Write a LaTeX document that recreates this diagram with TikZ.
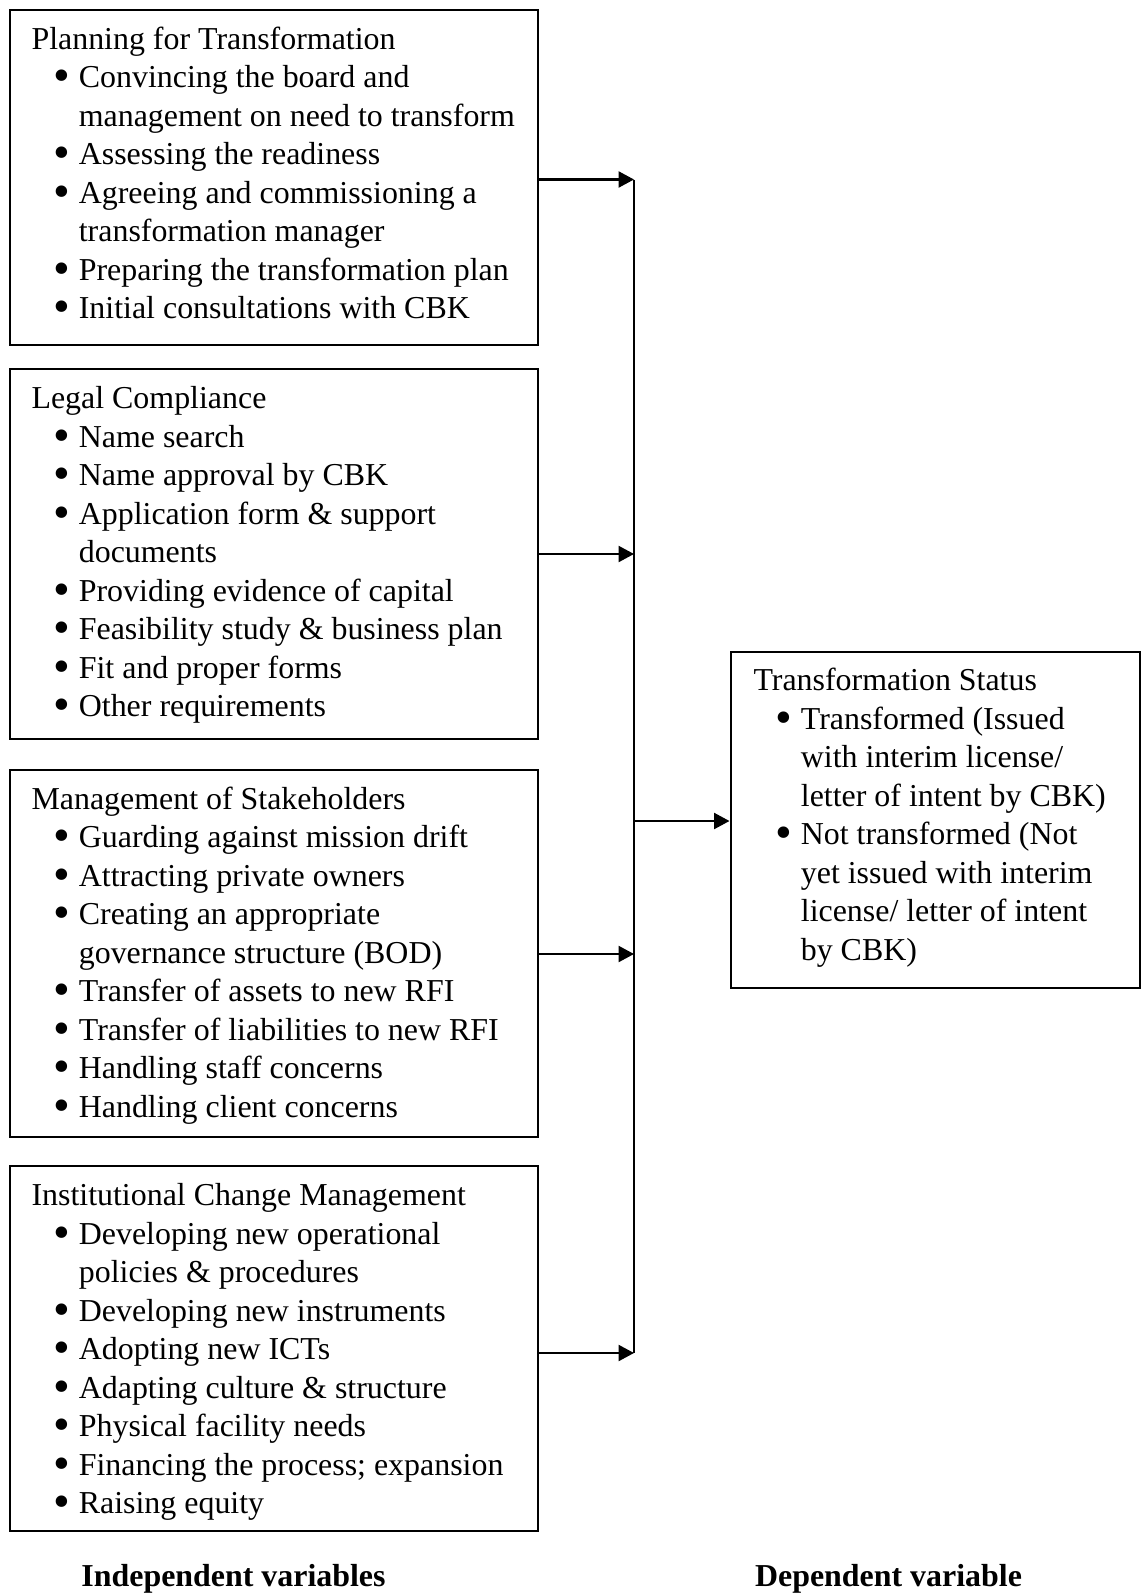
\documentclass[tikz,border=0pt]{standalone}
\usepackage{graphicx}
\usepackage{fontspec}
\setmainfont{Liberation Serif}
\usetikzlibrary{arrows.meta,fit}
\newcommand{\bdot}{\smash{\raisebox{-1.5pt}{\scalebox{1.5}{\textbullet}}}}
\newcommand{\bitem}[1]{\par\noindent\hspace*{11.35pt}\makebox[0pt][c]{\bdot}\hspace*{6.45pt}#1}
\newcommand{\bcont}[1]{\par\noindent\hspace*{17.8pt}#1}
\newcommand{\boxtext}[1]{\parbox[t]{200pt}{\fontsize{12pt}{14.48pt}\selectfont\parindent=0pt\parskip=0pt #1}}
\begin{document}
\begin{tikzpicture}[x=0.376pt,y=-0.376pt,
  frame/.style={draw,line width=0.75pt,inner sep=0pt},
  txt/.style={anchor=base west,inner sep=0pt},
  conn/.style={line width=0.85pt},
  arr/.style={line width=0.85pt,-{Triangle[length=5.8pt,width=6pt]}},
  lab/.style={anchor=base,inner sep=0pt,font=\fontsize{12pt}{14.48pt}\selectfont\bfseries}]
\useasboundingbox (0,0) rectangle (1141,1593);
% boxes
\node[frame,fit={(10,10)(537.5,345)}] (box1) {};
\node[frame,fit={(10,369.3)(537.5,738.6)}] (box2) {};
\node[frame,fit={(10,770.1)(537.5,1137)}] (box3) {};
\node[frame,fit={(10,1166.4)(537.5,1531)}] (box4) {};
\node[frame,fit={(730.5,651.5)(1140,987.6)}] (status) {};
% texts
\node[txt] (t1) at (31,49.3) {\boxtext{Planning for Transformation
\bitem{Convincing the board and}
\bcont{management on need to transform}
\bitem{Assessing the readiness}
\bitem{Agreeing and commissioning a}
\bcont{transformation manager}
\bitem{Preparing the transformation plan}
\bitem{Initial consultations with CBK}}};
\node[txt] (t2) at (31,408.6) {\boxtext{Legal Compliance
\bitem{Name search}
\bitem{Name approval by CBK}
\bitem{Application form \& support}
\bcont{documents}
\bitem{Providing evidence of capital}
\bitem{Feasibility study \& business plan}
\bitem{Fit and proper forms}
\bitem{Other requirements}}};
\node[txt] (t3) at (31,809.4) {\boxtext{Management of Stakeholders
\bitem{Guarding against mission drift}
\bitem{Attracting private owners}
\bitem{Creating an appropriate}
\bcont{governance structure (BOD)}
\bitem{Transfer of assets to new RFI}
\bitem{Transfer of liabilities to new RFI}
\bitem{Handling staff concerns}
\bitem{Handling client concerns}}};
\node[txt] (t4) at (31,1205.7) {\boxtext{Institutional Change Management
\bitem{Developing new operational}
\bcont{policies \& procedures}
\bitem{Developing new instruments}
\bitem{Adopting new ICTs}
\bitem{Adapting culture \& structure}
\bitem{Physical facility needs}
\bitem{Financing the process; expansion}
\bitem{Raising equity}}};
\node[txt] (t5) at (753,690.7) {\boxtext{Transformation Status
\bitem{Transformed (Issued}
\bcont{with interim license/}
\bcont{letter of intent by CBK)}
\bitem{Not transformed (Not}
\bcont{yet issued with interim}
\bcont{license/ letter of intent}
\bcont{by CBK)}}};
% junction points on the collector line
\coordinate (j1) at (634,179.5);
\coordinate (j2) at (634,554);
\coordinate (j3) at (634,954);
\coordinate (j4) at (634,1353);
\coordinate (jm) at (634,821);
\draw[conn] (j1) -- (j4);
\draw[arr] (box1.east |- j1) -- (j1);
\draw[arr] (box2.east |- j2) -- (j2);
\draw[arr] (box3.east |- j3) -- (j3);
\draw[arr] (box4.east |- j4) -- (j4);
\draw[arr] (jm) -- (status.west |- jm);
% labels
\node[lab] (indep) at (233.5,1586) {Independent variables};
\node[lab] (dep) at (888.5,1586) {Dependent variable};
\end{tikzpicture}
\end{document}
